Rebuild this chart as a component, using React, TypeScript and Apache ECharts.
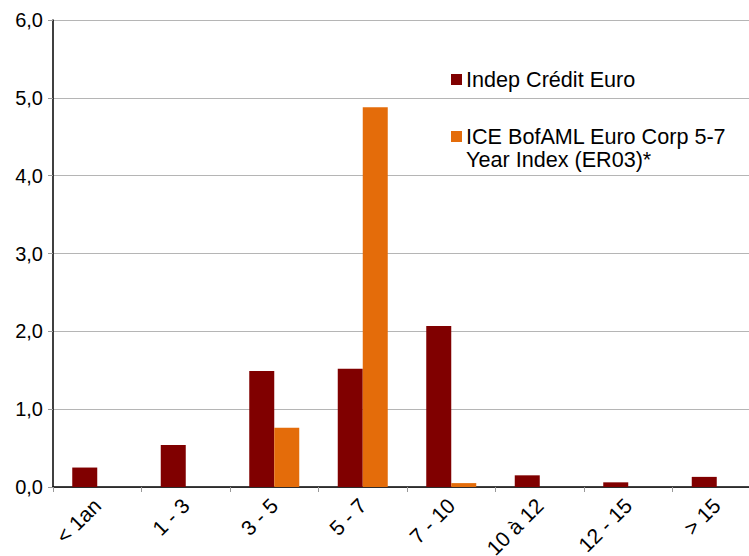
import React, { useEffect, useRef } from "react";
import * as echarts from "echarts";

const categories = ["< 1an", "1 - 3", "3 - 5", "5 - 7", "7 - 10", "10 à 12", "12 - 15", "> 15"];
const indepCredit = [0.25, 0.54, 1.49, 1.52, 2.07, 0.15, 0.06, 0.13];
const iceIndex = [0, 0, 0.76, 4.88, 0.05, 0, 0, 0];
const seriesNames = ["Indep Crédit Euro", "ICE BofAML Euro Corp 5-7\nYear Index (ER03)*"];
const colors = ["#800000", "#E46C0A"];

const FONT = "'Liberation Sans', Arial, sans-serif";

export default function App() {
  const ref = useRef<HTMLDivElement>(null);
  useEffect(() => {
    if (!ref.current) return;
    const chart = echarts.init(ref.current, null, { renderer: "svg" });
    chart.setOption({
      animation: false,
      backgroundColor: "#ffffff",
      grid: { left: 53, top: 20, bottom: 69, right: 0, containLabel: false, outerBoundsMode: "none" },
      xAxis: {
        type: "category",
        data: categories,
        axisLine: { lineStyle: { color: "#000", width: 1.5 } },
        axisTick: { show: true, length: 5, lineStyle: { color: "#999" }, alignWithLabel: false },
        axisLabel: {
          rotate: 45,
          color: "#000",
          fontSize: 21,
          fontFamily: FONT,
          margin: 15,
          interval: 0,
        },
      },
      yAxis: {
        type: "value",
        min: 0,
        max: 6,
        interval: 1,
        axisLine: { show: true, lineStyle: { color: "#000", width: 1.5 } },
        axisTick: { show: true, length: 5, lineStyle: { color: "#999" } },
        splitLine: { lineStyle: { color: "#b5b5b5", width: 1 } },
        axisLabel: {
          color: "#000",
          fontSize: 20,
          fontFamily: FONT,
          margin: 10,
          formatter: (v: number) => v.toFixed(1).replace(".", ","),
        },
      },
      series: [
        {
          name: seriesNames[0],
          type: "bar",
          data: indepCredit,
          barWidth: 25,
          barGap: "0%",
          itemStyle: { color: colors[0] },
        },
        {
          name: seriesNames[1],
          type: "bar",
          data: iceIndex,
          barWidth: 25,
          barGap: "0%",
          itemStyle: { color: colors[1] },
        },
      ],
      graphic: [
        { type: "rect", left: 451, top: 74, shape: { width: 11, height: 11 }, style: { fill: colors[0] } },
        {
          type: "text",
          left: 466,
          top: 68,
          style: { text: seriesNames[0], font: `21.6px ${FONT}`, fill: "#000" },
        },
        { type: "rect", left: 451, top: 131, shape: { width: 11, height: 11 }, style: { fill: colors[1] } },
        {
          type: "text",
          left: 466,
          top: 125,
          style: { text: seriesNames[1], font: `21.6px ${FONT}`, fill: "#000", lineHeight: 23 },
        },
      ],
    });
    return () => chart.dispose();
  }, []);
  return (
    <div style={{ position: "fixed", left: 0, top: 0, width: 749, height: 556, overflow: "hidden", background: "#fff" }}>
      <div ref={ref} style={{ width: 761, height: 556 }} />
    </div>
  );
}
